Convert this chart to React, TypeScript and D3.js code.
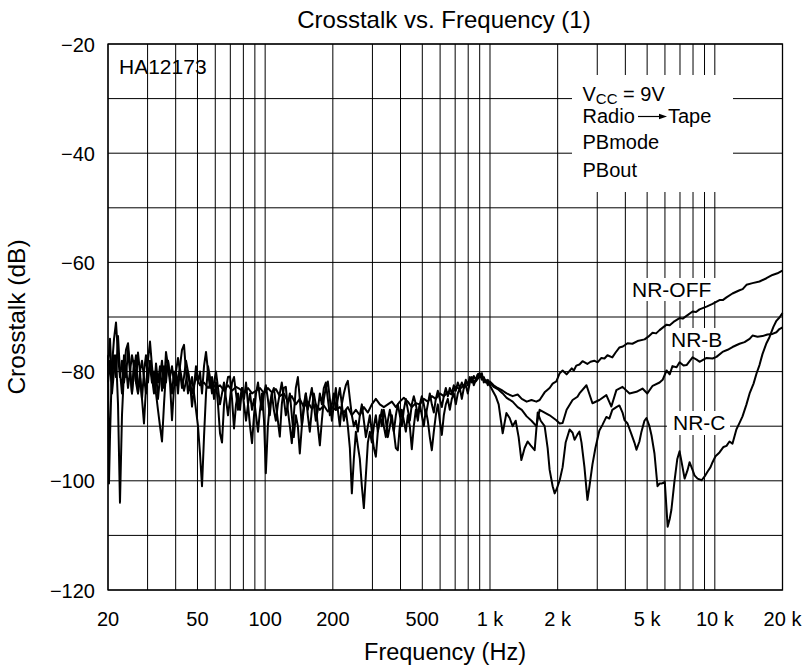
import React from "react";
import * as d3 from "d3";

const FONT = "'Liberation Sans', Arial, Helvetica, sans-serif";

const freqTickLabels: [number, string][] = [
  [20, "20"], [50, "50"], [100, "100"], [200, "200"], [500, "500"],
  [1000, "1 k"], [2000, "2 k"], [5000, "5 k"], [10000, "10 k"], [20000, "20 k"],
];
const dbTickLabels: number[] = [-20, -40, -60, -80, -100, -120];
const dbGrid: number[] = [-20, -30, -40, -50, -60, -70, -80, -90, -100, -110, -120];

const nrOff: [number, number][] = [
  [20,-79],[20.41,-74],[20.83,-82],[21.27,-77],[21.71,-81],[22.16,-73.5],[22.61,-80],[23.08,-84],[23.56,-77],[24.05,-81],
  [24.55,-76],[25.05,-80],[25.57,-84],[26.1,-78],[26.64,-82],[27.19,-76.5],[27.75,-80],[28.33,-85],[28.91,-80],[29.51,-77],
  [30.12,-82],[30.75,-78],[31.38,-81],[32.03,-84],[32.7,-78.5],[33.37,-82],[34.06,-79],[34.77,-83.5],[35.49,-79],[36.22,-82],
  [36.97,-78],[37.74,-81],[38.52,-84],[39.32,-80],[40.13,-82.5],[41.81,-79.5],[43.56,-83.5],[45.38,-80],[47.28,-84],[49.25,-81],
  [51.31,-82.5],[53.46,-82],[55.7,-83],[58.03,-82],[60.45,-83],[62.98,-82.5],[65.62,-83.5],[68.36,-82.5],[71.22,-83.5],[74.2,-82.8],
  [77.31,-83.2],[80.54,-84],[83.91,-83],[87.42,-84],[91.08,-83.5],[94.89,-83],[98.86,-84],[102.8,-83],[107.1,-83.8],[111.6,-83.2],
  [116.2,-84.5],[121.1,-84],[126.1,-85.5],[131.4,-84.5],[136.9,-86],[142.6,-85],[148.6,-86.5],[154.8,-85.5],[161.3,-86.8],[168,-86],
  [175.1,-87],[182.4,-86.2],[190,-87.3],[198,-86.5],[206.3,-87],[214.9,-86.5],[223.9,-87.5],[233.2,-86.5],[243,-88],[253.2,-87],
  [263.7,-88],[274.8,-86.5],[286.3,-87.5],[298.2,-86],[310.7,-85],[323.7,-86],[337.2,-86.5],[351.3,-86],[366,-85.5],[381.3,-86.5],
  [397.2,-85.5],[413.8,-84.8],[431.1,-85.5],[449.1,-86.5],[467.9,-85.8],[487.5,-86],[507.8,-85],[529,-85.5],[551.2,-84.5],[574.2,-85],
  [598.2,-84],[623.2,-84.5],[649.3,-83.8],[676.4,-84.2],[704.7,-82.8],[734.2,-83.2],[764.9,-82.5],[796.9,-82],[830.2,-81.6],[864.9,-81.8],
  [901.1,-80.8],[938.8,-81.5],[978.1,-82],[998.3,-81.8],[1038,-82.5],[1082,-83],[1139,-83.5],[1186,-84],[1261,-84.5],[1328,-84.2],
  [1385,-85],[1456,-85.5],[1530,-85.2],[1608,-85.5],[1663,-85.2],[1750,-83.8],[1842,-83],[1900,-82.2],[1973,-81.8],[2042,-80.3],
  [2104,-79.8],[2192,-80.5],[2310,-79.4],[2360,-79.8],[2420,-78.9],[2500,-78.7],[2580,-78.1],[2710,-78.6],[2800,-78.2],[2910,-78],
  [3010,-78.3],[3130,-77.5],[3230,-77.6],[3330,-77],[3500,-77.4],[3620,-76.5],[3760,-75.6],[3900,-75.4],[4090,-74.8],[4300,-74.9],
  [4530,-74.4],[4872,-74.1],[5060,-73.6],[5285,-72.9],[5480,-73],[5679,-72.4],[6101,-71.4],[6300,-71.5],[6552,-70.9],[6969,-70.2],
  [7200,-70.3],[7486,-69.8],[7960,-69],[8250,-69.1],[8550,-68.6],[9186,-68.1],[9767,-67.6],[10490,-66.9],[10850,-66.9],[11270,-66.4],
  [11980,-65.7],[12880,-65.1],[13300,-64.9],[13830,-64.1],[14710,-63.8],[15800,-63.5],[16970,-62.9],[18050,-62.3],[18990,-62],[19790,-61.6],
  [20000,-61.5],
];

const nrB: [number, number][] = [
  [20,-82],[20.41,-78],[20.83,-84],[21.27,-80],[21.71,-77],[22.16,-86],[22.61,-104],[23.08,-88],[23.56,-80],[24.05,-76],
  [24.55,-74.8],[25.05,-79],[25.57,-84],[26.1,-80],[26.64,-77],[27.19,-84],[27.75,-81],[28.33,-85],[28.91,-89.5],[29.51,-83],
  [30.12,-78],[30.75,-74.5],[31.38,-79],[32.03,-83],[32.7,-80],[33.37,-85],[34.06,-81],[34.77,-78],[35.49,-83],[36.22,-76.4],
  [36.97,-79],[37.74,-82],[38.52,-88.9],[39.32,-83],[40.13,-80],[40.96,-84],[41.81,-79],[42.67,-76],[43.56,-75.1],[44.46,-80],
  [45.38,-84],[46.32,-82],[47.28,-86.4],[48.26,-83],[49.25,-79],[50.27,-82],[51.31,-80],[52.38,-84],[53.46,-79],[54.57,-76.4],
  [55.7,-80],[56.85,-83],[58.03,-81],[59.23,-85],[60.45,-82],[61.7,-86],[62.98,-91.3],[64.29,-93],[65.62,-86],[66.98,-83],
  [68.36,-81],[69.78,-80.9],[71.22,-85],[72.7,-90.4],[74.2,-86],[75.74,-84],[77.31,-87],[78.91,-83],[80.54,-85],[82.21,-82],
  [83.91,-86],[85.65,-90],[87.42,-93.1],[89.23,-88],[91.08,-84],[92.96,-82],[94.89,-85],[96.85,-87],[98.86,-84],[100.7,-82.5],
  [102.8,-85],[104.9,-88],[107.1,-84],[109.3,-83],[111.6,-86],[113.9,-89],[116.2,-91.9],[118.6,-86],[121.1,-83],[123.6,-82.8],
  [126.1,-87],[128.8,-90],[131.4,-93.1],[134.1,-88],[136.9,-83],[139.8,-81],[142.6,-85],[145.6,-90],[148.6,-87],[151.7,-84],
  [154.8,-88],[158,-91],[161.3,-87],[164.6,-84],[168,-86],[171.5,-90],[175.1,-93.5],[178.7,-89],[182.4,-85],[186.2,-83],
  [190,-81.8],[194,-85],[198,-89],[202.1,-86],[206.3,-83],[210.5,-87],[214.9,-90],[219.3,-86],[223.9,-84],[228.5,-82.5],
  [233.2,-81.7],[238.1,-85],[243,-88],[248,-90],[253.2,-89],[258.4,-91],[263.7,-88],[269.2,-86],[274.8,-89],[280.5,-92],
  [286.3,-90],[292.2,-88],[298.2,-91],[304.4,-94],[310.7,-95.6],[317.1,-91],[323.7,-88],[330.4,-90],[337.2,-87],[344.2,-89],
  [351.3,-92],[358.6,-90],[366,-88],[373.6,-91],[381.3,-94],[389.2,-94.4],[397.2,-90],[405.4,-87],[413.8,-89],[422.4,-91],
  [431.1,-88],[440,-90],[449.1,-94.2],[458.4,-90],[467.9,-87],[477.6,-89],[487.5,-86],[497.5,-88],[507.8,-90],[518.3,-87],
  [529,-89],[540,-92],[551.2,-94.4],[562.6,-91],[574.2,-88],[586.1,-86],[598.2,-89],[610.6,-91.6],[623.2,-88],[636.1,-86],
  [649.3,-85],[662.7,-87],[676.4,-85],[690.4,-84],[704.7,-86],[719.3,-84],[734.2,-83],[749.4,-85],[764.9,-83],[780.7,-82.5],
  [796.9,-84],[813.4,-82],[830.2,-81],[847.4,-82.5],[864.9,-81.5],[882.8,-80.5],[901.1,-81],[919.8,-80.3],[938.8,-82],[958.2,-81.5],
  [978.1,-82.5],[998.3,-82],[1038,-82.8],[1082,-83.2],[1139,-84],[1186,-84.8],[1261,-85.5],[1328,-86.5],[1385,-87],[1456,-88.2],
  [1530,-89],[1608,-90],[1663,-87],[1750,-87.5],[1842,-88],[1973,-88.9],[2042,-89.5],[2104,-89.4],[2192,-87],[2330,-85.2],
  [2450,-84.6],[2500,-84],[2686,-82.5],[2856,-85.8],[3066,-85.2],[3293,-84.3],[3466,-86.4],[3649,-83.4],[3886,-82.8],[4175,-84],
  [4483,-83.7],[4768,-83.1],[5010,-84],[5290,-82.6],[5680,-82],[5860,-81.5],[6100,-79.8],[6300,-80.5],[6480,-79],[6760,-79.2],
  [6970,-78.3],[7260,-78.9],[7490,-78.8],[7960,-77.4],[8300,-77.8],[8550,-78.2],[9190,-77.5],[9770,-77.6],[10170,-77.3],[10820,-76.4],
  [11400,-76],[11980,-75.5],[12880,-74.9],[13560,-74.6],[14280,-74],[14710,-73.4],[15490,-73.6],[16290,-73.5],[17130,-73.2],[18050,-73.1],
  [18790,-72.8],[19380,-72.2],[20000,-71.9],
];

const nrC: [number, number][] = [
  [20,-77],[20.2,-100.5],[20.41,-92],[20.83,-79],[21.27,-74],[21.71,-71],[22.16,-77],[22.61,-81],[23.08,-78],[23.56,-82],
  [24.05,-79],[24.55,-83],[25.05,-80],[25.57,-77],[26.1,-79],[26.64,-82],[27.19,-84],[27.75,-80],[28.33,-78],[28.91,-81],
  [29.51,-84],[30.12,-80],[30.75,-79],[31.38,-82],[32.03,-80],[32.7,-84],[33.37,-87],[34.06,-90],[34.77,-92.8],[35.49,-86],
  [36.22,-80],[36.97,-78],[37.74,-81],[38.52,-79],[39.32,-82],[40.13,-80],[40.96,-77.5],[41.81,-80],[42.67,-83],[43.56,-81],
  [44.46,-78],[45.38,-80],[46.32,-83],[47.28,-81],[48.26,-84],[49.25,-87],[50.27,-90],[51.31,-95],[52.38,-101],[53.46,-92],
  [54.57,-84],[55.7,-79],[56.85,-81],[58.03,-84],[59.23,-82],[60.45,-80],[61.7,-83],[62.98,-86],[64.29,-84],[65.62,-82],
  [66.98,-85],[68.36,-88],[69.78,-85],[71.22,-82],[72.7,-81],[74.2,-84],[75.74,-87],[77.31,-85],[78.91,-83],[80.54,-86],
  [82.21,-89],[83.91,-86],[85.65,-84],[87.42,-87],[89.23,-85],[91.08,-88],[92.96,-91],[94.89,-87],[96.85,-84],[98.86,-89],
  [100.7,-98.6],[102.8,-90],[104.9,-86],[107.1,-84],[109.3,-87],[111.6,-89],[113.9,-86],[116.2,-84],[118.6,-82],[121.1,-85],
  [123.6,-88],[126.1,-86],[128.8,-84],[131.4,-88],[134.1,-92],[136.9,-88],[139.8,-90],[142.6,-95],[145.6,-90],[148.6,-86],
  [151.7,-84],[154.8,-87],[158,-85],[161.3,-83],[164.6,-86],[168,-89],[171.5,-87],[175.1,-84],[178.7,-86],[182.4,-83],
  [186.2,-82],[190,-85],[194,-88],[198,-86],[202.1,-84],[206.3,-87],[210.5,-85],[214.9,-83],[219.3,-86],[223.9,-89],
  [228.5,-87],[233.2,-90],[238.1,-94],[243,-102.3],[248,-96],[253.2,-91],[258.4,-93.6],[263.7,-96],[269.2,-101],[274.8,-105],
  [280.5,-99],[286.3,-93],[292.2,-91],[298.2,-93],[304.4,-90],[310.7,-88],[317.1,-91],[323.7,-89],[330.4,-87],[337.2,-90],
  [344.2,-92],[351.3,-89],[358.6,-87],[366,-89],[373.6,-91],[381.3,-88],[389.2,-86],[397.2,-88],[405.4,-90],[413.8,-87],
  [422.4,-85],[431.1,-87],[440,-89],[449.1,-86],[458.4,-84.5],[467.9,-86],[477.6,-88],[487.5,-86],[497.5,-84.5],[507.8,-86],
  [518.3,-88],[529,-86],[540,-84],[551.2,-86],[562.6,-87.5],[574.2,-85],[586.1,-83.5],[598.2,-85],[610.6,-86.5],[623.2,-84.5],
  [636.1,-83],[649.3,-84.5],[662.7,-83],[676.4,-84],[690.4,-82.5],[704.7,-83.5],[719.3,-82],[734.2,-83],[749.4,-82],[764.9,-83],
  [780.7,-81.5],[796.9,-82.5],[813.4,-81],[830.2,-82],[847.4,-80.8],[864.9,-81.5],[882.8,-80.5],[901.1,-80.3],[919.8,-81.5],[938.8,-81],
  [958.2,-82],[978.1,-81.5],[998.3,-82.5],[1028,-83.5],[1060,-84.5],[1093,-86],[1139,-91.3],[1183,-87.6],[1223,-88.5],[1261,-90],
  [1301,-89],[1341,-92],[1379,-96.2],[1426,-94],[1471,-92.8],[1516,-93.5],[1580,-94.4],[1630,-87.5],[1681,-89],[1750,-90],
  [1805,-94],[1842,-98],[1900,-101],[1940,-102.3],[1980,-101.5],[2042,-99.9],[2104,-97.5],[2170,-93],[2260,-90.6],[2330,-91.2],
  [2378,-92.5],[2450,-91.5],[2500,-91],[2553,-93],[2631,-97.5],[2713,-103.5],[2770,-101],[2856,-97],[2944,-94],[3066,-90.8],
  [3160,-89.8],[3293,-88.3],[3395,-88.6],[3500,-87],[3649,-86.5],[3763,-86.2],[3886,-87.5],[3967,-88.9],[4090,-89.5],[4260,-91.5],
  [4390,-93],[4483,-94.3],[4620,-92.8],[4718,-91],[4864,-89],[4966,-88.5],[5120,-90],[5230,-91.7],[5390,-95],[5560,-101],
  [5680,-100.5],[5800,-100.5],[5990,-100.2],[6170,-108.4],[6300,-107],[6410,-105.3],[6610,-100.2],[6810,-96],[6970,-94.6],[7110,-96.5],
  [7340,-99.6],[7570,-98],[7720,-96.6],[7960,-98],[8120,-99],[8380,-99.6],[8740,-99.9],[9010,-99.2],[9290,-98.3],[9570,-97.5],
  [9770,-96.6],[10070,-95.5],[10490,-94.8],[10930,-93.8],[11270,-93.6],[11620,-92.8],[11980,-93.2],[12470,-90.6],[12880,-89.4],[13280,-88.2],
  [13830,-86],[14280,-84],[14870,-82.2],[15340,-80.3],[15800,-78.8],[16290,-76.8],[16970,-74.8],[17500,-73.7],[18220,-71.8],[18790,-70.7],
  [19380,-70.1],[20000,-69.3],
];

const seriesList = [nrOff, nrB, nrC];

export default function App() {
  const X0 = 108, X1 = 782.5, Y0 = 44, Y1 = 590;
  const x = d3.scaleLog().domain([20, 20000]).range([X0, X1]);
  const y = d3.scaleLinear().domain([-120, -20]).range([Y1, Y0]);
  const line = d3.line<[number, number]>().x((d) => x(d[0])).y((d) => y(d[1]));
  const gridF = x.ticks();

  const boxes = [
    { x: 572, y: 75, w: 161, h: 117 },
    { x: 628, y: 278, w: 88, h: 23 },
    { x: 667, y: 328, w: 60, h: 23 },
    { x: 667, y: 411, w: 63, h: 24 },
  ];

  return (
    <svg
      width={808}
      height={668}
      style={{ position: "absolute", left: 0, top: 0, background: "#fff" }}
      fontFamily={FONT}
    >
      <rect x={0} y={0} width={808} height={668} fill="#fff" />
      <g stroke="#000" strokeWidth={1}>
        {gridF.map((f) => (
          <line key={"v" + f} x1={x(f)} x2={x(f)} y1={Y0} y2={Y1} />
        ))}
        {dbGrid.map((v) => (
          <line key={"h" + v} x1={X0} x2={X1} y1={y(v)} y2={y(v)} />
        ))}
      </g>
      {boxes.map((b, i) => (
        <rect key={i} x={b.x} y={b.y} width={b.w} height={b.h} fill="#fff" />
      ))}
      <rect x={X0} y={Y0} width={X1 - X0} height={Y1 - Y0} fill="none" stroke="#000" strokeWidth={1.3} />
      <g fill="none" stroke="#000" strokeWidth={2} strokeLinejoin="round">
        {seriesList.map((s, i) => (
          <path key={i} d={line(s) || ""} />
        ))}
      </g>

      <text x={444} y={28} fontSize={24} textAnchor="middle">Crosstalk vs. Frequency (1)</text>

      {dbTickLabels.map((v) => (
        <text key={"yl" + v} x={95} y={y(v) + 7.5} fontSize={20} textAnchor="end">
          {"\u2212" + Math.abs(v)}
        </text>
      ))}
      {freqTickLabels.map(([f, s]) => (
        <text key={"xl" + f} x={x(f)} y={626} fontSize={20} textAnchor="middle">
          {s}
        </text>
      ))}
      <text x={445} y={660} fontSize={23.5} textAnchor="middle">Frequency (Hz)</text>
      <text transform="translate(25,317) rotate(-90)" fontSize={24.5} textAnchor="middle">Crosstalk (dB)</text>

      <text x={119} y={74} fontSize={21}>HA12173</text>

      <g fontSize={20}>
        <text x={582.5} y={100.5}>
          V<tspan fontSize={15} dy={3}>CC</tspan>
          <tspan dy={-3}> = 9V</tspan>
        </text>
        <text x={582.5} y={122.5}>Radio</text>
        <line x1={638} x2={660} y1={116.5} y2={116.5} stroke="#000" strokeWidth={1.2} />
        <path d="M659,113.8 L667,116.5 L659,119.2 Z" fill="#000" />
        <text x={668} y={122.5}>Tape</text>
        <text x={582.5} y={149}>PBmode</text>
        <text x={582.5} y={176.5}>PBout</text>
      </g>

      <g fontSize={21}>
        <text x={632} y={297}>NR-OFF</text>
        <text x={671} y={347}>NR-B</text>
        <text x={673} y={430}>NR-C</text>
      </g>
    </svg>
  );
}
